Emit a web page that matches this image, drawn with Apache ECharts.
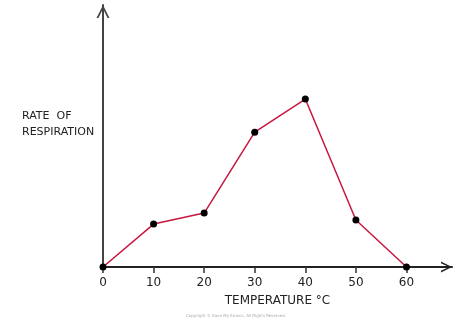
<!DOCTYPE html>
<html>
<head>
<meta charset="utf-8">
<script src="https://cdn.jsdelivr.net/npm/echarts@6/dist/echarts.min.js"></script>
<style>html,body{margin:0;padding:0;background:#fff;}#c{width:474px;height:323px;}</style>
</head>
<body>
<div id="c"></div>
<script>
var temperatures = [0, 10, 20, 30, 40, 50, 60];
var rates = [0, 16.7, 21, 52.5, 65.4, 18.3, 0];
var xTickValues = [0, 10, 20, 30, 40, 50, 60];
var xAxisTitle = 'TEMPERATURE \u00B0C';
var yAxisTitle = 'RATE  OF\nRESPIRATION';
var copyright = 'Copyright \u00A9 Save My Exams. All Rights Reserved.';

var chevron = 'path://M0,12 L6,0 L12,12 L10.2,12 L6,3.4 L1.8,12 Z';
var chart = echarts.init(document.getElementById('c'));
chart.setOption({
  animation: false,
  backgroundColor: '#ffffff',
  grid: {left: 103, right: 22, top: 5, bottom: 56},
  xAxis: {
    type: 'value', min: 0, max: 69,
    name: xAxisTitle, nameLocation: 'middle', nameGap: 28,
    nameTextStyle: {fontFamily: 'DejaVu Sans', fontSize: 12, color: '#222'},
    axisLine: {lineStyle: {color: '#222', width: 2}, symbol: ['none', chevron], symbolSize: [14, 11], symbolOffset: [0, -5.5]},
    axisTick: {show: true, length: 6, lineStyle: {color: '#333', width: 1.5}, customValues: xTickValues},
    axisLabel: {fontFamily: 'DejaVu Sans', fontSize: 12, color: '#222', margin: 10, customValues: xTickValues},
    splitLine: {show: false}
  },
  yAxis: {
    type: 'value', min: 0, max: 102,
    axisLine: {show: true, lineStyle: {color: '#444', width: 2}, symbol: ['none', chevron], symbolSize: [14, 13], symbolOffset: [0, -6.5]},
    axisTick: {show: false},
    axisLabel: {show: false},
    splitLine: {show: false}
  },
  graphic: [
    {type: 'text', left: 22, top: 108, style: {text: yAxisTitle, fontFamily: 'DejaVu Sans', fontSize: 11, fill: '#222', lineHeight: 16}},
    {type: 'text', left: 186, top: 314, style: {text: copyright, fontFamily: 'DejaVu Sans', fontSize: 4, fill: '#aaa'}}
  ],
  series: [{
    type: 'line',
    data: temperatures.map(function (t, i) { return [t, rates[i]]; }),
    symbol: 'circle', symbolSize: 7,
    itemStyle: {color: '#000'},
    lineStyle: {color: '#c8163f', width: 1.5},
    z: 3
  }]
});
</script>
</body>
</html>
